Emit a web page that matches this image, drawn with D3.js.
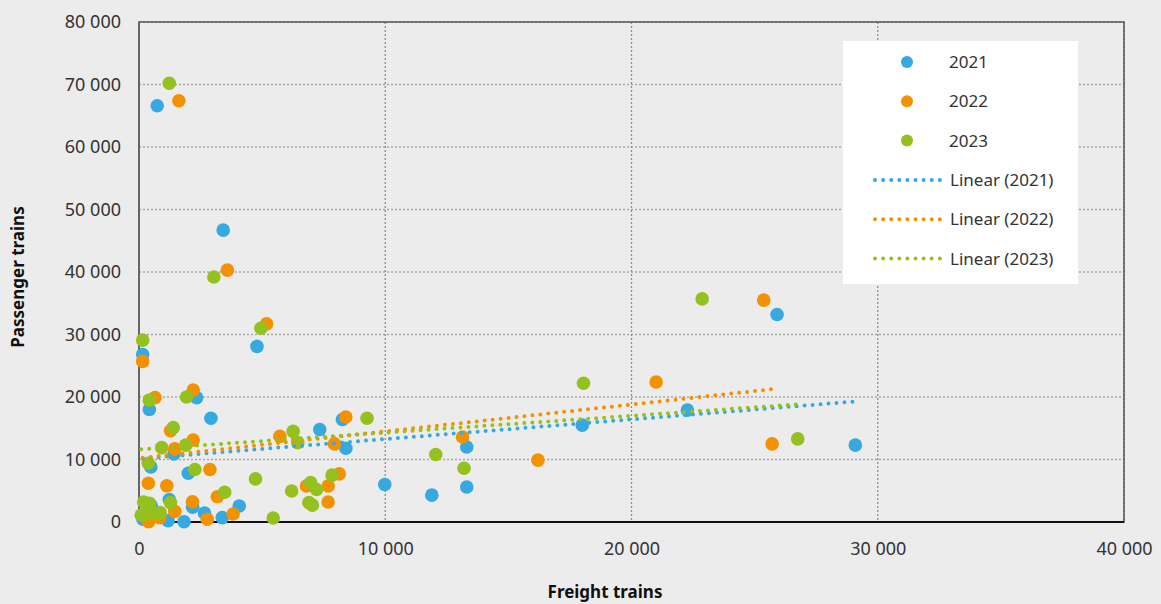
<!DOCTYPE html>
<html>
<head>
<meta charset="utf-8">
<script src="https://cdn.jsdelivr.net/npm/d3@7"></script>
<style>
  body { margin: 0; background: #ececec; }
  .chart text { font-family: "Noto Sans", sans-serif; fill: #333; }
  .axisTitle { font-weight: bold; font-size: 17px; fill: #111 !important; }
</style>
</head>
<body>
<div class="chart"></div>
<script>
// Series names and colours
var years = ["2021", "2022", "2023"];
var colors = ["#36a9e1", "#f39200", "#95c11f"];

// Points: [freight trains, passenger trains]
var data2021 = [
  [740, 66600], [3420, 46700], [4790, 28100], [150, 26800], [2340, 19900],
  [420, 18000], [2920, 16600], [1420, 10900], [480, 8800], [2000, 7800],
  [7340, 14800], [8400, 11800], [8260, 16400], [4070, 2560], [3380, 700],
  [2660, 1450], [2180, 2350], [1830, 50], [1230, 3600], [500, 2560],
  [160, 430], [1180, 200], [9980, 6000], [11890, 4300], [13310, 5600],
  [13310, 12000], [18000, 15500], [22270, 17900], [25910, 33200], [29090, 12300]
];
var data2022 = [
  [1620, 67400], [3590, 40300], [5180, 31700], [150, 25700], [2200, 21100],
  [650, 19900], [1280, 14600], [2200, 13100], [1450, 11700], [2880, 8400],
  [380, 6200], [1130, 5800], [5720, 13700], [7940, 12500], [8400, 16800],
  [3180, 4050], [6800, 5760], [7680, 5760], [8130, 7700], [7680, 3200],
  [3820, 1280], [2770, 430], [2170, 3250], [1450, 1700], [840, 700],
  [390, 50], [13140, 13600], [16200, 9900], [21000, 22400], [25370, 35500],
  [25710, 12500]
];
var data2023 = [
  [1230, 70200], [3040, 39200], [4950, 31000], [150, 29100], [420, 19500],
  [1930, 20000], [1390, 15100], [1900, 12300], [920, 11900], [380, 9400],
  [2270, 8400], [4730, 6900], [6260, 14500], [6450, 12700], [3480, 4750],
  [6200, 4960], [6970, 6300], [7210, 5200], [7840, 7500], [6900, 3100],
  [7040, 2700], [5450, 640], [9260, 16600], [1280, 3100], [190, 3200],
  [430, 3000], [90, 1100], [300, 1300], [570, 1400], [860, 1500],
  [12050, 10800], [13200, 8600], [18050, 22200], [22870, 35700], [26750, 13300]
];
var seriesData = [data2021, data2022, data2023];

// Linear trend lines: [intercept, slope]
var trend2021 = [10120, 0.315];
var trend2022 = [10200, 0.43];
var trend2023 = [11600, 0.27];
var trends = [trend2021, trend2022, trend2023];

// Tick values
var xTicks = [0, 10000, 20000, 30000, 40000];
var yTicks = [0, 10000, 20000, 30000, 40000, 50000, 60000, 70000, 80000];

var svgWidth = 1161;
var svgHeight = 604;
var margin = { top: 22, right: 37, bottom: 82, left: 139 };
var width = svgWidth - margin.left - margin.right;
var height = svgHeight - margin.top - margin.bottom;

var svg = d3.select(".chart")
  .append("svg")
  .attr("width", svgWidth)
  .attr("height", svgHeight);

var chart = svg.append("g")
  .attr("transform", "translate(" + margin.left + ", " + margin.top + ")");

var xScale = d3.scaleLinear().domain([0, 40000]).range([0, width]);
var yScale = d3.scaleLinear().domain([0, 80000]).range([height, 0]);

var fmt = d3.formatLocale({ decimal: ",", thousands: " ", grouping: [3], currency: ["", ""] }).format(",");

// Gridlines
chart.append("g")
  .selectAll("line")
  .data(yTicks.slice(1))
  .enter().append("line")
  .attr("x1", 0).attr("x2", width)
  .attr("y1", function(d) { return yScale(d); })
  .attr("y2", function(d) { return yScale(d); })
  .attr("stroke", "#a6a6a6")
  .attr("stroke-width", 1.3)
  .attr("stroke-dasharray", "2,2");

chart.append("g")
  .selectAll("line")
  .data(xTicks.slice(1))
  .enter().append("line")
  .attr("y1", 0).attr("y2", height)
  .attr("x1", function(d) { return xScale(d); })
  .attr("x2", function(d) { return xScale(d); })
  .attr("stroke", "#8c8c8c")
  .attr("stroke-width", 1.3)
  .attr("stroke-dasharray", "2,2");

// Plot border
chart.append("rect")
  .attr("width", width).attr("height", height)
  .attr("fill", "none")
  .attr("stroke", "#555")
  .attr("stroke-width", 1.5);

chart.append("line")
  .attr("x1", 0).attr("x2", 0).attr("y1", 0).attr("y2", height)
  .attr("stroke", "#666").attr("stroke-width", 2);

chart.append("line")
  .attr("x1", 0).attr("x2", width).attr("y1", height).attr("y2", height)
  .attr("stroke", "#111").attr("stroke-width", 2);

// Axes (labels only)
var bottomAxis = d3.axisBottom(xScale).tickValues(xTicks).tickFormat(fmt).tickSize(0).tickPadding(20);
var leftAxis = d3.axisLeft(yScale).tickValues(yTicks).tickFormat(fmt).tickSize(0).tickPadding(18);

var xAxisG = chart.append("g")
  .attr("transform", "translate(0, " + height + ")")
  .call(bottomAxis);
var yAxisG = chart.append("g").call(leftAxis);

[xAxisG, yAxisG].forEach(function(g) {
  g.select(".domain").remove();
  g.selectAll("text").style("font-size", "18px").style("font-family", "Noto Sans, sans-serif").attr("fill", "#333");
});

// Points, drawn series by series
seriesData.forEach(function(series, i) {
  chart.append("g")
    .selectAll("circle")
    .data(series)
    .enter().append("circle")
    .attr("cx", function(d) { return xScale(d[0]); })
    .attr("cy", function(d) { return yScale(d[1]); })
    .attr("r", 6.8)
    .attr("fill", colors[i]);
});

// Trend lines over each series' x range
var line = d3.line()
  .x(function(d) { return xScale(d[0]); })
  .y(function(d) { return yScale(d[1]); });

trends.forEach(function(t, i) {
  var ext = d3.extent(seriesData[i], function(d) { return d[0]; });
  var pts = ext.map(function(x) { return [x, t[0] + t[1] * x]; });
  chart.append("path")
    .attr("d", line(pts))
    .attr("fill", "none")
    .attr("stroke", colors[i])
    .attr("stroke-width", 4)
    .attr("stroke-linecap", "round")
    .attr("stroke-dasharray", "0,8");
});

// Legend
var legend = svg.append("g").attr("transform", "translate(843, 41)");
legend.append("rect")
  .attr("width", 235).attr("height", 243)
  .attr("fill", "#fff");

years.forEach(function(y, i) {
  legend.append("circle")
    .attr("cx", 64).attr("cy", 21 + i * 39.3)
    .attr("r", 6)
    .attr("fill", colors[i]);
  legend.append("text")
    .attr("x", 106).attr("y", 21 + i * 39.3)
    .attr("dy", "0.35em")
    .style("font-size", "17px")
    .text(y);
});

years.forEach(function(y, i) {
  var cy = 139 + i * 39.3;
  legend.append("line")
    .attr("x1", 32).attr("x2", 97)
    .attr("y1", cy).attr("y2", cy)
    .attr("stroke", colors[i])
    .attr("stroke-width", 4)
    .attr("stroke-linecap", "round")
    .attr("stroke-dasharray", "0,8.1");
  legend.append("text")
    .attr("x", 107).attr("y", cy)
    .attr("dy", "0.35em")
    .style("font-size", "17px")
    .text("Linear (" + y + ")");
});

// Axis titles
svg.append("text")
  .attr("class", "axisTitle")
  .attr("transform", "translate(24, " + (margin.top + height / 2 + 5) + ") rotate(-90)")
  .attr("text-anchor", "middle")
  .text("Passenger trains");

svg.append("text")
  .attr("class", "axisTitle")
  .attr("x", 605)
  .attr("y", 598)
  .attr("text-anchor", "middle")
  .text("Freight trains");
</script>
</body>
</html>
